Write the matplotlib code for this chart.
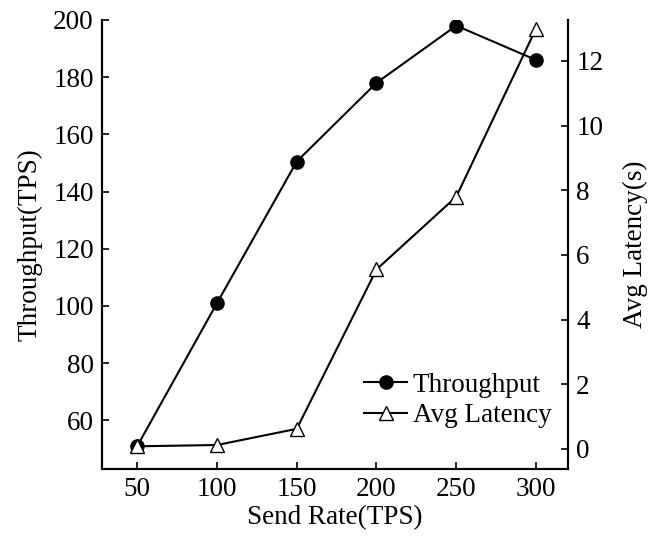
import matplotlib.pyplot as plt

# datos
send_rate = [50, 100, 150, 200, 250, 300]
throughput = [51, 101, 150.5, 178, 198, 186]
latency = [0.08, 0.12, 0.62, 5.55, 7.8, 13.0]

plt.rcParams['font.family'] = ['Liberation Serif', 'DejaVu Serif']
plt.rcParams['font.size'] = 19.5

fig = plt.figure(figsize=(6.55, 5.39), dpi=100)
ax1 = fig.add_axes([0.156, 0.130, 0.711, 0.833])
ax2 = ax1.twinx()

l1, = ax1.plot(send_rate, throughput, color='black', lw=1.5, marker='o',
               markersize=9.5, label='Throughput')
l2, = ax2.plot(send_rate, latency, color='black', lw=1.5, marker='^',
               markersize=9.5, markerfacecolor='white', label='Avg Latency')

ax1.set_xlim(28, 320)
ax1.set_ylim(43, 200)
ax2.set_ylim(-0.62, 13.27)
ax1.set_xticks([50, 100, 150, 200, 250, 300])
ax1.set_yticks(range(60, 201, 20))
ax2.set_yticks(range(0, 13, 2))

for ax in (ax1, ax2):
    ax.spines['top'].set_visible(False)
    ax.tick_params(direction='in', length=5, width=1.2, pad=6)
    for s in ax.spines.values():
        s.set_linewidth(1.5)

ax1.set_xlabel('Send Rate(TPS)', labelpad=2)
ax1.set_ylabel('Throughput(TPS)', labelpad=8)
ax2.set_ylabel('Avg Latency(s)', labelpad=14)

ax1.legend([l1, l2], ['Throughput', 'Avg Latency'], loc='lower right',
           bbox_to_anchor=(1.0, 0.055), frameon=False, handlelength=1.6,
           handletextpad=0.2, labelspacing=0.2, borderaxespad=0.2)

fig.savefig('out.png', dpi=100)
